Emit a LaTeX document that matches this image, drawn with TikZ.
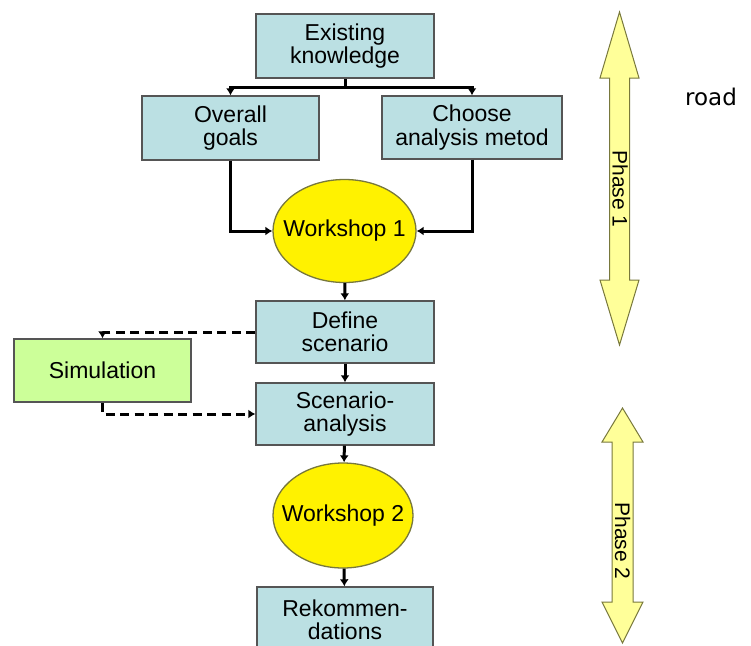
\documentclass[tikz,border=0pt]{standalone}
\usepackage{fontspec}
\setmainfont{Liberation Sans}
\newfontfamily\roadfont{DejaVu Sans}
\usepackage{xcolor}
\usetikzlibrary{arrows.meta}
\usetikzlibrary{shapes.geometric}
\definecolor{boxblue}{RGB}{187,224,227}
\definecolor{simgreen}{RGB}{204,255,153}
\definecolor{phaseyellow}{RGB}{255,255,153}
\definecolor{edgegray}{RGB}{85,85,85}
\definecolor{olivegray}{RGB}{120,120,60}

\begin{document}
\begin{tikzpicture}[x=1pt, y=-1pt, >={Latex[length=7pt,width=9pt]},
  stepbox/.style={rectangle, draw=edgegray, fill=boxblue, line width=1.4pt, align=center, inner sep=0pt, font=\fontsize{23}{23.5}\selectfont},
  meeting/.style={ellipse, draw=olivegray, fill=yellow, line width=1.3pt, inner xsep=-16pt, inner ysep=0pt, font=\fontsize{23}{23.5}\selectfont},
  flow/.style={->, line width=3pt},
  simflow/.style={->, line width=3pt, dash pattern=on 9pt off 5.5pt},
  phase/.style={draw=olivegray, fill=phaseyellow, line width=1pt}]
  \useasboundingbox (0,0) rectangle (751,645);
  \clip (0,0) rectangle (751,645);
  % flow chart
  \node[stepbox, minimum width=178pt, minimum height=64pt] (know) at (345,46) {Existing\\knowledge};
  \node[stepbox, minimum width=177pt, minimum height=64pt] (goals) at (230.5,128) {Overall\\goals};
  \node[stepbox, minimum width=180pt, minimum height=63pt] (method) at (472,127.5) {Choose\\analysis metod};
  \node[meeting, minimum width=143pt, minimum height=103pt] (ws1) at (344.5,231) {Workshop 1};
  \node[stepbox, minimum width=178pt, minimum height=62pt] (define) at (345,332) {Define\\scenario};
  \node[stepbox, minimum width=178pt, minimum height=62pt] (scan) at (345,414) {Scenario-\\analysis};
  \node[stepbox, fill=simgreen, minimum width=177pt, minimum height=63pt] (sim) at (102.5,370.5) {Simulation};
  \node[meeting, minimum width=140pt, minimum height=105pt] (ws2) at (343,515.5) {Workshop 2};
  \node[stepbox, minimum width=176pt, minimum height=66pt] (rek) at (345,620) {Rekommen-\\dations};
  \coordinate (split) at (345,87);

  \draw[line width=3pt] (know.south) -- (split);
  \draw[flow] (split) -| (goals.north);
  \draw[flow] (split) -| (method.north);
  \draw[flow] (goals.south) |- (ws1.west);
  \draw[flow] (method.south) |- (ws1.east);
  \draw[flow] (ws1) -- (define);
  \draw[flow] (define) -- (scan);
  \draw[flow] (scan) -- (ws2);
  \draw[flow] (ws2) -- (rek);
  \draw[simflow] (define.west) -| (sim.north);
  \draw[simflow] (sim.south) |- (scan.west);

  % phase arrows
  \draw[phase] (619.5,12) -- (639,78) -- (629.5,78) -- (629.5,280) -- (639,280) -- (619.5,345)
    -- (600,280) -- (609.5,280) -- (609.5,78) -- (600,78) -- cycle;
  \node[rotate=-90, inner sep=0pt, font=\fontsize{21}{21}\selectfont] (ph1) at (620,189) {Phase 1};
  \draw[phase] (622.5,408) -- (643,442) -- (633,442) -- (633,602) -- (643,602) -- (622.5,643)
    -- (602,602) -- (612,602) -- (612,442) -- (602,442) -- cycle;
  \node[rotate=-90, inner sep=0pt, font=\fontsize{21}{21}\selectfont] (ph2) at (622.5,541) {Phase 2};
  \node[font=\roadfont\fontsize{23}{23}\selectfont] (road) at (711,97) {road};
\end{tikzpicture}
\end{document}
